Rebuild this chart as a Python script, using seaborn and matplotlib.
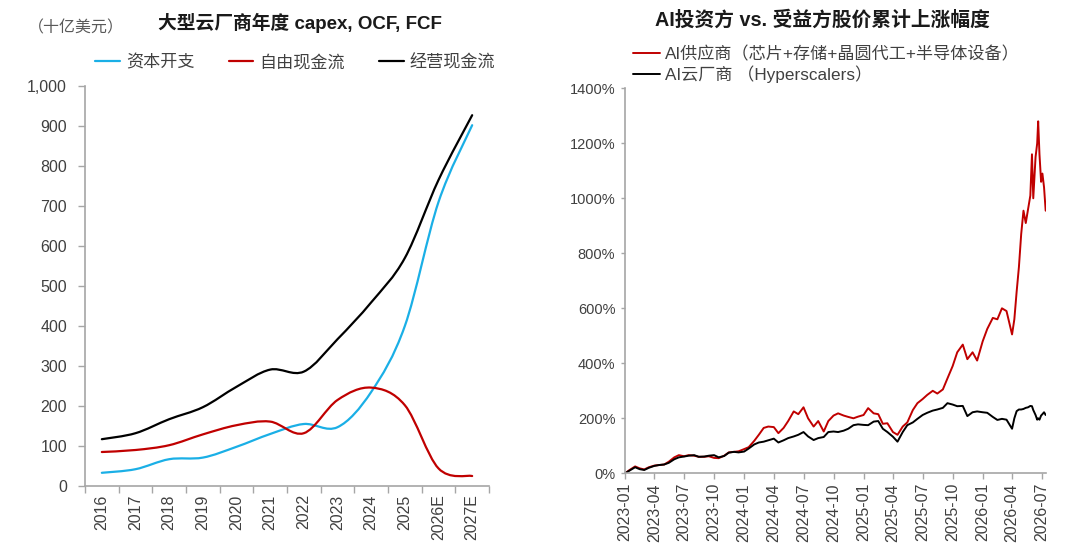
import numpy as np
import pandas as pd
import matplotlib
matplotlib.use('Agg')
import matplotlib.pyplot as plt
import matplotlib.dates as mdates
from matplotlib.path import Path
from matplotlib.patches import PathPatch
from matplotlib.lines import Line2D
from matplotlib.ticker import FuncFormatter, FixedLocator
import seaborn as sns

# ---- left panel data (十亿美元) ----
years = ['2016', '2017', '2018', '2019', '2020', '2021',
         '2022', '2023', '2024', '2025', '2026E', '2027E']
capex = [33, 42, 67, 71, 98, 130, 155, 147, 235, 400, 710, 902]
fcf = [85, 90, 102, 129, 152, 161, 132, 215, 246, 202, 44, 25]
ocf = [117, 132, 167, 197, 248, 291, 286, 367, 459, 570, 765, 927]

# ---- right panel data (累计涨幅 %) ----
semi_dates = list(pd.date_range('2023-01-01', '2026-04-01', freq='SMS'))
late_dates = ['2026-04-08', '2026-04-15', '2026-04-22', '2026-04-29',
              '2026-05-06', '2026-05-13', '2026-05-20', '2026-05-27',
              '2026-06-01', '2026-06-05', '2026-06-12', '2026-06-17',
              '2026-06-20', '2026-06-24', '2026-06-29', '2026-07-03',
              '2026-07-08', '2026-07-13']
dates = semi_dates + list(pd.to_datetime(late_dates))

hyperscalers = [0, 10, 22, 15, 12, 20, 27, 30, 32, 38, 51, 58, 61, 64, 66, 60,
                61, 64, 66, 58, 63, 75, 78, 76, 79, 90, 105, 112, 115, 120,
                126, 112, 120, 128, 134, 140, 150, 134, 121, 128, 132, 150,
                152, 150, 155, 162, 175, 178, 176, 175, 188, 190, 162, 150,
                133, 115, 150, 175, 185, 198, 212, 220, 228, 232, 238, 255,
                250, 244, 245, 208, 222, 225, 222, 220, 205, 194, 198, 195,
                162,
                200, 226, 232, 232, 234, 238, 240, 245, 244, 230, 212, 195,
                200, 195, 210, 215, 222, 212]
suppliers = [0, 12, 25, 18, 14, 22, 28, 30, 32, 42, 58, 66, 62, 66, 64, 60,
             60, 62, 56, 55, 64, 76, 78, 80, 88, 95, 118, 140, 165, 170,
             168, 146, 165, 190, 225, 215, 240, 200, 170, 190, 152, 190,
             210, 218, 210, 205, 200, 206, 212, 237, 218, 215, 180, 182,
             150, 140, 170, 185, 230, 255, 270, 285, 300, 290, 305, 345,
             390, 440, 468, 415, 440, 410, 480, 525, 565, 560, 600, 590,
             505,
             560, 660, 750, 870, 955, 910, 960, 1010, 1160, 1000, 1150, 1200,
             1280, 1160, 1060, 1090, 1040, 955]

BLUE = '#1AAFE6'
RED = '#C00000'
GREY = '#A6A6A6'
TXT = '#404040'

sns.set_theme(style='ticks')
plt.rcParams['font.family'] = ['Liberation Sans', 'Noto Sans CJK SC', 'DejaVu Sans']
plt.rcParams['axes.unicode_minus'] = False


def smooth_path(xs, ys):
    """Excel-style smoothed line as cubic Bezier path through the points."""
    pts = np.column_stack([xs, ys]).astype(float)
    ext = np.vstack([pts[0], pts, pts[-1]])
    verts = [pts[0]]
    codes = [Path.MOVETO]
    for i in range(len(pts) - 1):
        p0, p1, p2, p3 = ext[i], ext[i + 1], ext[i + 2], ext[i + 3]
        verts += [p1 + (p2 - p0) / 6, p2 - (p3 - p1) / 6, p2]
        codes += [Path.CURVE4] * 3
    return Path(verts, codes)


fig = plt.figure(figsize=(10.8, 5.53), dpi=100)

# ---------------- left panel ----------------
ax1 = fig.add_axes([85 / 1080, 1 - 486 / 553, 404 / 1080, 400 / 553])
xpos = np.arange(len(years))
for vals, color in [(capex, BLUE), (fcf, RED), (ocf, 'black')]:
    ax1.add_patch(PathPatch(smooth_path(xpos, vals), fill=False,
                            edgecolor=color, lw=1.6, capstyle='round'))
ax1.set_xlim(-0.5, len(years) - 0.5)
ax1.set_ylim(0, 1000)
ax1.set_yticks(np.arange(0, 1001, 100))
ax1.yaxis.set_major_formatter(FuncFormatter(lambda v, p: f'{int(v):,}'))
ax1.set_xticks(xpos)
ax1.set_xticklabels(years, rotation=90)
ax1.xaxis.set_minor_locator(FixedLocator(np.arange(-0.5, len(years), 1.0)))
ax1.tick_params(axis='x', which='major', length=0, pad=6, labelsize=11.5,
                colors=TXT)
ax1.tick_params(axis='x', which='minor', length=5, width=1, color=GREY)
ax1.tick_params(axis='y', length=5, width=1, color=GREY, labelsize=11.5,
                labelcolor=TXT, pad=8)
for s in ['top', 'right']:
    ax1.spines[s].set_visible(False)
for s in ['left', 'bottom']:
    ax1.spines[s].set_color(GREY)
    ax1.spines[s].set_linewidth(1.2)

h1 = [Line2D([], [], color=BLUE, lw=1.6),
      Line2D([], [], color=RED, lw=1.6),
      Line2D([], [], color='black', lw=1.6)]
ax1.legend(h1, ['资本开支', '自由现金流', '经营现金流'], ncol=3,
           loc='center left', bbox_to_anchor=(0.025, 1.06), frameon=False,
           fontsize=12.3, handlelength=1.45, handletextpad=0.35,
           columnspacing=2.0, borderaxespad=0, borderpad=0,
           labelcolor=TXT)

fig.text(300 / 1080, 1 - 23 / 553, '大型云厂商年度 capex, OCF, FCF',
         ha='center', va='center', fontsize=13.5, fontweight='bold',
         color='#1a1a1a')
fig.text(28 / 1080, 1 - 28 / 553, '（十亿美元）', ha='left', va='center',
         fontsize=11.5, color='#595959')

# ---------------- right panel ----------------
ax2 = fig.add_axes([625 / 1080, 1 - 473.3 / 553, 421 / 1080, 385 / 553])
df = pd.DataFrame({
    'date': dates * 2,
    'value': suppliers + hyperscalers,
    'series': ['AI供应商（芯片+存储+晶圆代工+半导体设备）'] * len(dates)
              + ['AI云厂商 （Hyperscalers）'] * len(dates),
})
sns.lineplot(data=df, x='date', y='value', hue='series',
             palette=[RED, 'black'], lw=1.4, ax=ax2)
ax2.set_xlim(pd.Timestamp('2023-01-01'), pd.Timestamp('2026-07-14'))
ax2.set_ylim(0, 1400)
ax2.set_yticks(np.arange(0, 1401, 200))
ax2.yaxis.set_major_formatter(FuncFormatter(lambda v, p: f'{int(v)}%'))
ax2.xaxis.set_major_locator(mdates.MonthLocator(bymonth=[1, 4, 7, 10]))
ax2.xaxis.set_major_formatter(mdates.DateFormatter('%Y-%m'))
plt.setp(ax2.get_xticklabels(), rotation=90)
ax2.set_xlabel('')
ax2.set_ylabel('')
ax2.tick_params(axis='x', length=4, width=1, color=GREY, labelsize=11.5,
                labelcolor=TXT, pad=3)
ax2.tick_params(axis='y', length=3, width=1, color=GREY, labelsize=10.5,
                labelcolor=TXT, pad=4)
for s in ['top', 'right']:
    ax2.spines[s].set_visible(False)
for s in ['left', 'bottom']:
    ax2.spines[s].set_color(GREY)
    ax2.spines[s].set_linewidth(1.2)

handles, labels = ax2.get_legend_handles_labels()
ax2.legend(handles, labels, loc='center left', bbox_to_anchor=(0.019, 1.062),
           frameon=False, fontsize=12.3, handlelength=1.6, handletextpad=0.25,
           labelspacing=0.22, borderaxespad=0, borderpad=0, labelcolor=TXT)

fig.text(822 / 1080, 1 - 20 / 553, 'AI投资方 vs. 受益方股价累计上涨幅度',
         ha='center', va='center', fontsize=14.2, fontweight='bold',
         color='#1a1a1a')

fig.savefig('out.png', dpi=100)
